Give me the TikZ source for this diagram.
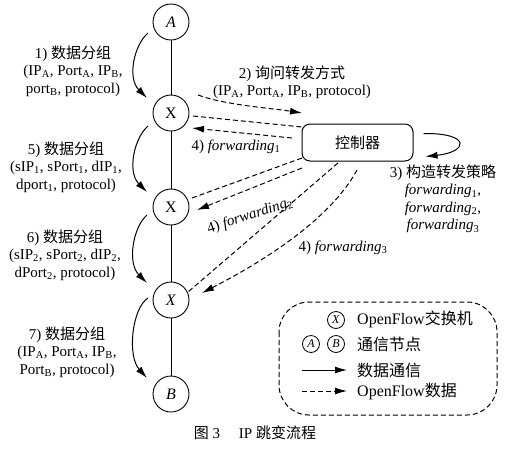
\documentclass[tikz,border=0pt]{standalone}
\usepackage{fontspec}
\setmainfont{Liberation Serif}
\newfontfamily\cjk{Noto Sans CJK SC}
\newcommand{\zh}[1]{{\cjk #1}}
\newcommand{\sbx}[1]{\textsubscript{#1}}
\usetikzlibrary{arrows.meta,calc}
\begin{document}
\begin{tikzpicture}[x=1pt,y=-1pt,
 nd/.style={draw,circle,minimum size=36pt,inner sep=0pt,line width=0.9pt,font=\fontsize{16}{18}\selectfont},
 lg/.style={draw,circle,minimum size=17pt,inner sep=0pt,line width=0.8pt,font=\fontsize{12}{12}\selectfont},
 lbl/.style={align=center,font=\fontsize{15}{17.5}\selectfont,inner sep=0pt},
 arr/.style={line width=1pt,-{Latex[length=12pt,width=7pt]}},
 dsh/.style={line width=1pt,dash pattern=on 5pt off 3pt},
 darr/.style={dsh,-{Latex[length=12pt,width=7pt]}},
]
\useasboundingbox (0,0) rectangle (509,448);
% main nodes
\node[nd] (A) at (171,22) {\textit{A}};
\node[nd] (X1) at (171,113) {X};
\node[nd] (X2) at (171,207) {X};
\node[nd] (X3) at (171,300) {\textit{X}};
\node[nd] (B) at (171,394) {\textit{B}};
\draw[line width=0.9pt] (A) -- (X1) -- (X2) -- (X3) -- (B);
\node[draw,rounded corners=8pt,line width=1pt,minimum width=111pt,minimum height=37pt,font=\fontsize{15}{17}\selectfont] (C) at (357.5,142.5) {\zh{控制器}};
% left curved data arrows
\draw[arr] ([shift={(-23,11)}]A.center) .. controls +(-14,12) and +(-20,-20) .. ([shift={(-24,-15)}]X1.center);
\draw[arr] ([shift={(-23,13)}]X1.center) .. controls +(-14,12) and +(-20,-20) .. ([shift={(-24,-15)}]X2.center);
\draw[arr] ([shift={(-24,8)}]X2.center) .. controls +(-14,12) and +(-20,-20) .. ([shift={(-24,-17)}]X3.center);
\draw[arr] ([shift={(-23,-2)}]X3.center) .. controls +(-16,10) and +(-20,-22) .. ([shift={(-24,-16)}]B.center);
% labels left
\node[lbl] (l1) at (73,71) {1) \zh{数据分组}\\(IP\sbx{A}, Port\sbx{A}, IP\sbx{B},\\port\sbx{B}, protocol)};
\node[lbl] (l5) at (66,167) {5) \zh{数据分组}\\(sIP\sbx{1}, sPort\sbx{1}, dIP\sbx{1},\\dport\sbx{1}, protocol)};
\node[lbl] (l6) at (65,255) {6) \zh{数据分组}\\(sIP\sbx{2}, sPort\sbx{2}, dIP\sbx{2},\\dPort\sbx{2}, protocol)};
\node[lbl] (l7) at (67,352) {7) \zh{数据分组}\\(IP\sbx{A}, Port\sbx{A}, IP\sbx{B},\\Port\sbx{B}, protocol)};
% OpenFlow messages
\draw[darr] ([shift={(27,-18)}]X1.center) .. controls (225,105) and (270,108) .. ([shift={(-55.5,-29.5)}]C.center);
\draw[dsh] ([shift={(22,3)}]X1.center) -- ([shift={(-55.5,-15.5)}]C.center);
\draw[darr] ([shift={(-65.5,-4.5)}]C.center) -- ([shift={(21,15)}]X1.center);
\draw[dsh] ([shift={(-55.5,15.5)}]C.center) -- ([shift={(21,-9)}]X2.center);
\draw[darr] ([shift={(-55.5,25.5)}]C.center) -- ([shift={(26,3)}]X2.center);
\draw[dsh] ([shift={(-19.5,20.5)}]C.center) -- ([shift={(17,-8)}]X3.center);
\draw[darr] ([shift={(-0.5,27.5)}]C.center) .. controls (330,220) and (262,262) .. ([shift={(31,-7)}]X3.center);
\draw[arr] ([shift={(10,-9)}]C.east) .. controls (472,133) and (468,152) .. ([shift={(12,14)}]C.east);
\node[lbl] (q2) at (292,82) {2) \zh{询问转发方式}\\(IP\sbx{A}, Port\sbx{A}, IP\sbx{B}, protocol)};
\node[lbl] (f1) at (236,147) {4) \textit{forwarding}\sbx{1}};
\node[lbl,rotate=18] (f2) at (250,216) {4) \textit{forwarding}\sbx{2}};
\node[lbl] (f3) at (343,248) {4) \textit{forwarding}\sbx{3}};
\node[lbl] (s3) at (443,199) {3) \zh{构造转发策略}\\\textit{forwarding}\sbx{1},\\\textit{forwarding}\sbx{2},\\\textit{forwarding}\sbx{3}};
% legend
\draw[dsh,rounded corners=30pt] (279,302) rectangle (497,415);
\node[lg] (lx) at (336,320) {\textit{X}};
\node[lg] (la) at (311,344) {\textit{A}};
\node[lg] (lb) at (336,344) {\textit{B}};
\coordinate (s1) at (302,370); \coordinate (s2) at (347,370);
\draw[arr] (s1) -- (s2);
\coordinate (d1) at (302,391); \coordinate (d2) at (347,391);
\draw[darr] (d1) -- (d2);
\node[lbl,anchor=west,font=\fontsize{16}{18}\selectfont] (t1) at (357,319) {OpenFlow\zh{交换机}};
\node[lbl,anchor=west,font=\fontsize{16}{18}\selectfont] (t2) at (357,344) {\zh{通信节点}};
\node[lbl,anchor=west,font=\fontsize{16}{18}\selectfont] (t3) at (357,370) {\zh{数据通信}};
\node[lbl,anchor=west,font=\fontsize{16}{18}\selectfont] (t4) at (357,391) {OpenFlow\zh{数据}};
% caption
\node[lbl,font=\fontsize{15}{17}\selectfont] (cap) at (255,433) {\zh{图} 3\quad\ IP \zh{跳变流程}};
\end{tikzpicture}
\end{document}
